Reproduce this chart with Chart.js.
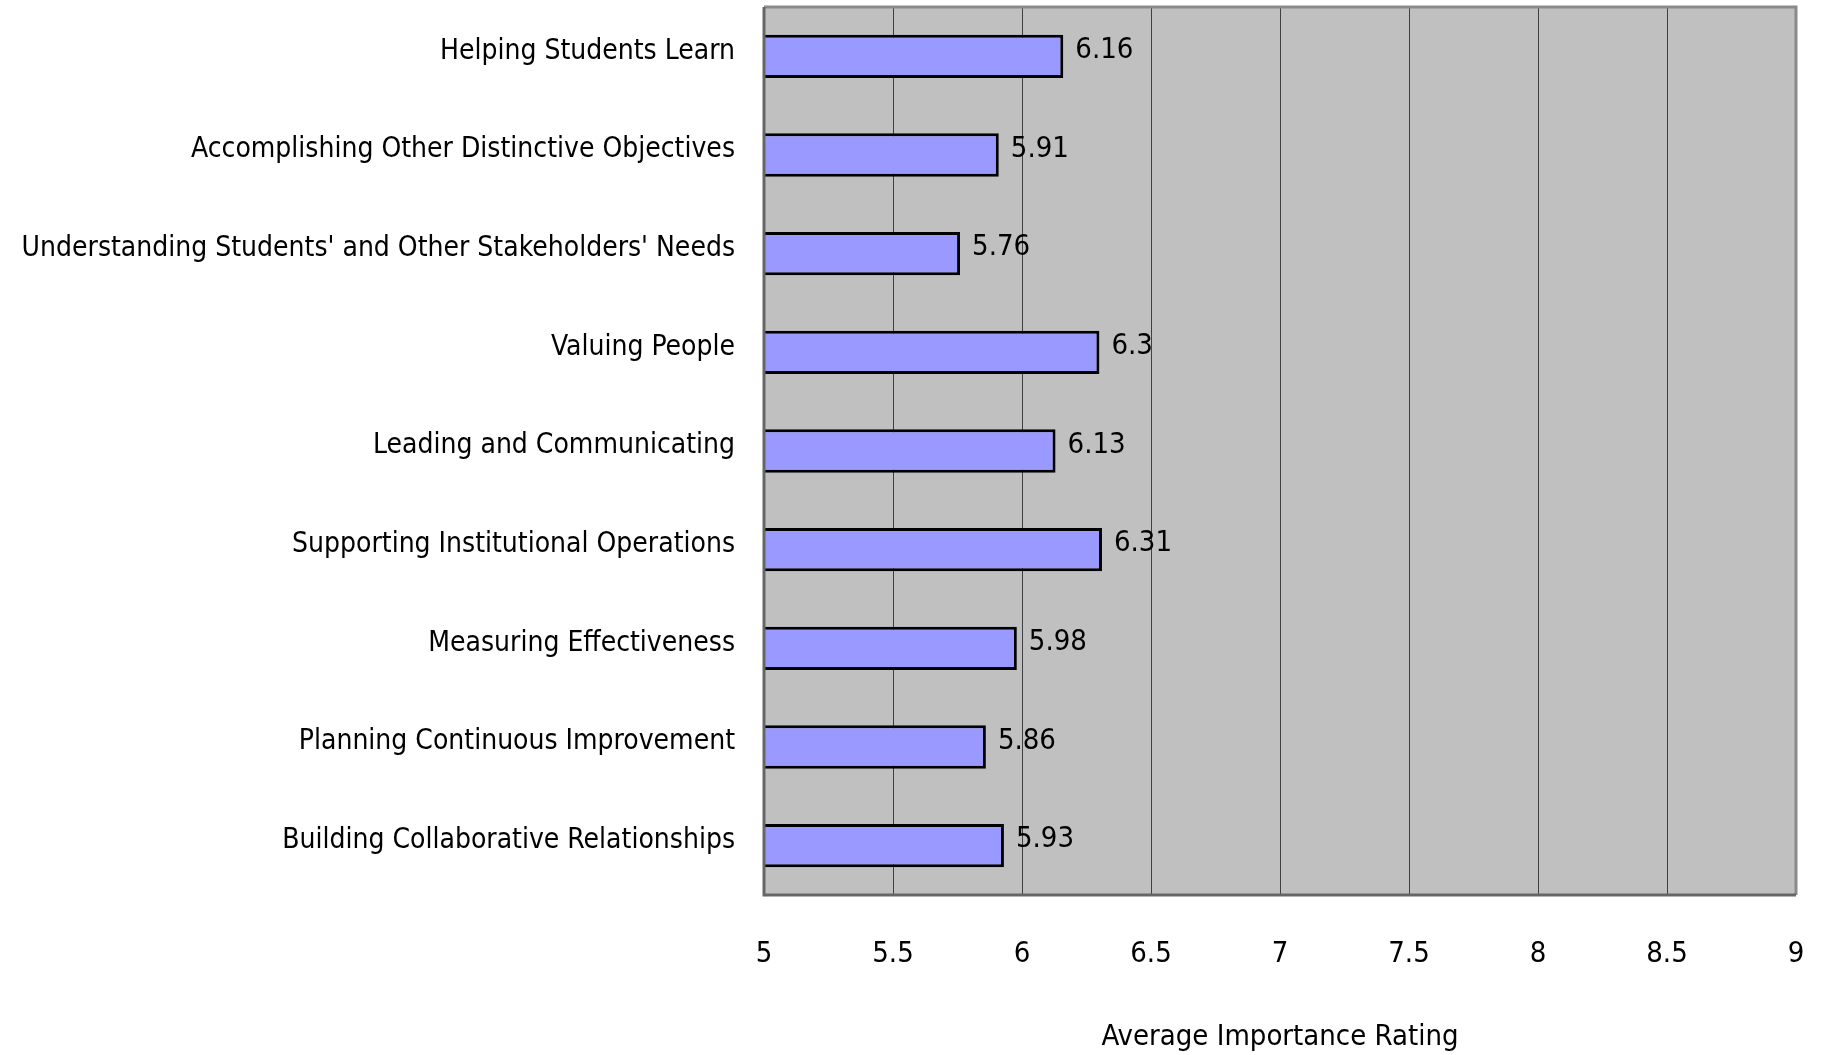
<!DOCTYPE html>
<html>
<head>
<meta charset="utf-8">
<script src="https://cdn.jsdelivr.net/npm/chart.js@4"></script>
<style>
  html, body { margin: 0; padding: 0; background: #ffffff; }
  #wrap { width: 1829px; height: 1055px; position: relative; }
</style>
</head>
<body>
<div id="wrap"><canvas id="chart" width="1829" height="1055"></canvas></div>
<script>
// Categories, top to bottom
const categories = [
  "Helping Students Learn",
  "Accomplishing Other Distinctive Objectives",
  "Understanding Students' and Other Stakeholders' Needs",
  "Valuing People",
  "Leading and Communicating",
  "Supporting Institutional Operations",
  "Measuring Effectiveness",
  "Planning Continuous Improvement",
  "Building Collaborative Relationships"
];

// Average importance rating per category
const ratings = [6.16, 5.91, 5.76, 6.3, 6.13, 6.31, 5.98, 5.86, 5.93];

// Value axis range and tick step
const axisMin = 5;
const axisMax = 9;
const axisStep = 0.5;
const axisTitle = "Average Importance Rating";

const FONT = "'DejaVu Sans Condensed', 'Liberation Sans Narrow', sans-serif";

// Gray plot background drawn behind the bars
const plotBackground = {
  id: 'plotBackground',
  beforeDraw(chart) {
    const { ctx, chartArea: a } = chart;
    ctx.save();
    ctx.fillStyle = '#c0c0c0';
    ctx.fillRect(a.left, a.top, a.right - a.left, a.bottom - a.top);
    ctx.restore();
  }
};

// Frame around the plot area, drawn over the gridlines
const plotFrame = {
  id: 'plotFrame',
  afterDatasetsDraw(chart) {
    const { ctx, chartArea: a } = chart;
    ctx.save();
    ctx.lineWidth = 3;
    ctx.strokeStyle = '#8a8a8a';
    ctx.beginPath();
    ctx.moveTo(a.left, a.top);
    ctx.lineTo(a.right, a.top);
    ctx.lineTo(a.right, a.bottom);
    ctx.stroke();
    ctx.strokeStyle = '#666666';
    ctx.beginPath();
    ctx.moveTo(a.right, a.bottom);
    ctx.lineTo(a.left, a.bottom);
    ctx.lineTo(a.left, a.top);
    ctx.stroke();
    ctx.restore();
  }
};

// Value labels to the right of each bar
const valueLabels = {
  id: 'valueLabels',
  afterDatasetsDraw(chart) {
    const { ctx } = chart;
    const meta = chart.getDatasetMeta(0);
    ctx.save();
    ctx.fillStyle = '#000000';
    ctx.font = "29px " + FONT;
    ctx.textAlign = 'left';
    ctx.textBaseline = 'middle';
    meta.data.forEach((bar, i) => {
      const v = chart.data.datasets[0].data[i];
      ctx.fillText(String(v), bar.x + 12, bar.y - 6);
    });
    ctx.restore();
  }
};

new Chart(document.getElementById('chart'), {
  type: 'bar',
  data: {
    labels: categories,
    datasets: [{
      data: ratings,
      backgroundColor: '#9999ff',
      borderColor: '#000000',
      borderWidth: 3,
      borderSkipped: false,
      barPercentage: 0.44,
      categoryPercentage: 1.0
    }]
  },
  options: {
    indexAxis: 'y',
    responsive: false,
    animation: false,
    layout: { padding: { top: 7, right: 33, left: 0, bottom: 0 } },
    plugins: {
      legend: { display: false },
      tooltip: { enabled: false }
    },
    scales: {
      x: {
        type: 'linear',
        min: axisMin,
        max: axisMax,
        ticks: {
          stepSize: axisStep,
          color: '#000000',
          font: { family: FONT, size: 29 },
          padding: 42,
          callback: (v) => String(v)
        },
        grid: { color: '#404040', lineWidth: 1, drawTicks: false },
        border: { display: false },
        title: {
          display: true,
          text: axisTitle,
          color: '#000000',
          font: { family: FONT, size: 29 },
          padding: { top: 30, bottom: 0 }
        },
        afterFit(scale) {
          scale.height = 160;
          scale.paddingLeft = 0;
          scale.paddingRight = 0;
        }
      },
      y: {
        ticks: {
          color: '#000000',
          font: { family: FONT, size: 28 },
          padding: 29,
          labelOffset: -5
        },
        grid: { display: false, drawTicks: false },
        border: { display: false },
        afterFit(scale) {
          scale.width = 764;
          scale.paddingTop = 0;
          scale.paddingBottom = 0;
        }
      }
    }
  },
  plugins: [plotBackground, plotFrame, valueLabels]
});
</script>
</body>
</html>
